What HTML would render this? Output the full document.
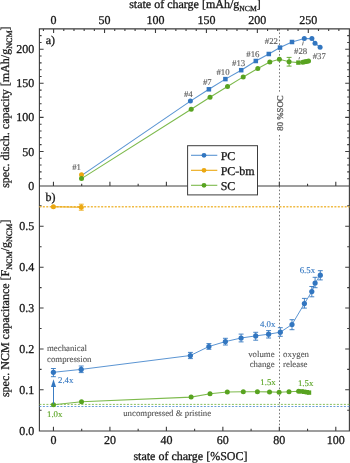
<!DOCTYPE html>
<html><head><meta charset="utf-8"><style>
html,body{margin:0;padding:0;background:#fff;width:350px;height:463px;overflow:hidden;}
svg{display:block;will-change:transform;}
text{stroke-width:0.3px;text-rendering:geometricPrecision;}
.an text{stroke-width:0.12px;}
</style></head><body>
<svg width="350" height="463" viewBox="0 0 350 463">
<rect width="350" height="463" fill="#fff"/>
<path d="M39.4,28.9H349.4V431.0H39.4Z M39.4,186.0H349.4" fill="none" stroke="#3c3c3c" stroke-width="1.12"/>
<path d="M43.41,28.9v2.2 M53.60,28.9v4.2 M63.79,28.9v2.2 M73.98,28.9v2.2 M84.16,28.9v2.2 M94.35,28.9v2.2 M104.54,28.9v4.2 M114.73,28.9v2.2 M124.92,28.9v2.2 M135.10,28.9v2.2 M145.29,28.9v2.2 M155.48,28.9v4.2 M165.67,28.9v2.2 M175.86,28.9v2.2 M186.04,28.9v2.2 M196.23,28.9v2.2 M206.42,28.9v4.2 M216.61,28.9v2.2 M226.80,28.9v2.2 M236.98,28.9v2.2 M247.17,28.9v2.2 M257.36,28.9v4.2 M267.55,28.9v2.2 M277.74,28.9v2.2 M287.92,28.9v2.2 M298.11,28.9v2.2 M308.30,28.9v4.2 M318.49,28.9v2.2 M328.68,28.9v2.2 M338.86,28.9v2.2 M53.45,186.0v-4.2 M53.45,431.0v-4.2 M81.69,186.0v-2.2 M81.69,431.0v-2.2 M109.92,186.0v-4.2 M109.92,431.0v-4.2 M138.16,186.0v-2.2 M138.16,431.0v-2.2 M166.39,186.0v-4.2 M166.39,431.0v-4.2 M194.62,186.0v-2.2 M194.62,431.0v-2.2 M222.86,186.0v-4.2 M222.86,431.0v-4.2 M251.10,186.0v-2.2 M251.10,431.0v-2.2 M279.33,186.0v-4.2 M279.33,431.0v-4.2 M307.56,186.0v-2.2 M307.56,431.0v-2.2 M335.80,186.0v-4.2 M335.80,431.0v-4.2 M39.4,178.69h2.2 M349.4,178.69h-2.2 M39.4,171.88h2.2 M349.4,171.88h-2.2 M39.4,165.06h2.2 M349.4,165.06h-2.2 M39.4,158.25h2.2 M349.4,158.25h-2.2 M39.4,151.44h4.2 M349.4,151.44h-4.2 M39.4,144.63h2.2 M349.4,144.63h-2.2 M39.4,137.82h2.2 M349.4,137.82h-2.2 M39.4,131.00h2.2 M349.4,131.00h-2.2 M39.4,124.19h2.2 M349.4,124.19h-2.2 M39.4,117.38h4.2 M349.4,117.38h-4.2 M39.4,110.57h2.2 M349.4,110.57h-2.2 M39.4,103.76h2.2 M349.4,103.76h-2.2 M39.4,96.94h2.2 M349.4,96.94h-2.2 M39.4,90.13h2.2 M349.4,90.13h-2.2 M39.4,83.32h4.2 M349.4,83.32h-4.2 M39.4,76.51h2.2 M349.4,76.51h-2.2 M39.4,69.70h2.2 M349.4,69.70h-2.2 M39.4,62.88h2.2 M349.4,62.88h-2.2 M39.4,56.07h2.2 M349.4,56.07h-2.2 M39.4,49.26h4.2 M349.4,49.26h-4.2 M39.4,42.45h2.2 M349.4,42.45h-2.2 M39.4,35.64h2.2 M349.4,35.64h-2.2 M39.4,410.26h2.2 M349.4,410.26h-2.2 M39.4,389.82h4.2 M349.4,389.82h-4.2 M39.4,369.38h2.2 M349.4,369.38h-2.2 M39.4,348.94h4.2 M349.4,348.94h-4.2 M39.4,328.50h2.2 M349.4,328.50h-2.2 M39.4,308.06h4.2 M349.4,308.06h-4.2 M39.4,287.62h2.2 M349.4,287.62h-2.2 M39.4,267.18h4.2 M349.4,267.18h-4.2 M39.4,246.74h2.2 M349.4,246.74h-2.2 M39.4,226.30h4.2 M349.4,226.30h-4.2 M39.4,205.86h2.2 M349.4,205.86h-2.2" fill="none" stroke="#3c3c3c" stroke-width="1.1"/>
<g font-family="Liberation Serif, serif" font-size="12" fill="#1a1a1a" stroke="#1a1a1a"><text x="53.60" y="23.8" text-anchor="middle">0</text><text x="104.54" y="23.8" text-anchor="middle">50</text><text x="155.48" y="23.8" text-anchor="middle">100</text><text x="206.42" y="23.8" text-anchor="middle">150</text><text x="257.36" y="23.8" text-anchor="middle">200</text><text x="308.30" y="23.8" text-anchor="middle">250</text><text x="53.45" y="444.2" text-anchor="middle">0</text><text x="109.92" y="444.2" text-anchor="middle">20</text><text x="166.39" y="444.2" text-anchor="middle">40</text><text x="222.86" y="444.2" text-anchor="middle">60</text><text x="279.33" y="444.2" text-anchor="middle">80</text><text x="335.80" y="444.2" text-anchor="middle">100</text><text x="34.3" y="189.60" text-anchor="end">0</text><text x="34.3" y="155.54" text-anchor="end">50</text><text x="34.3" y="121.48" text-anchor="end">100</text><text x="34.3" y="87.42" text-anchor="end">150</text><text x="34.3" y="53.36" text-anchor="end">200</text><text x="34.3" y="434.80" text-anchor="end">0.0</text><text x="34.3" y="393.92" text-anchor="end">0.1</text><text x="34.3" y="353.04" text-anchor="end">0.2</text><text x="34.3" y="312.16" text-anchor="end">0.3</text><text x="34.3" y="271.28" text-anchor="end">0.4</text><text x="34.3" y="230.40" text-anchor="end">0.5</text></g>
<text font-family="Liberation Serif, serif" font-size="12" fill="#1a1a1a" stroke="#1a1a1a" x="195.0" y="8.2" text-anchor="middle">state of charge [mAh/g<tspan font-size="7.7" dy="2.5">NCM</tspan><tspan dy="-2.5">]</tspan></text>
<text font-family="Liberation Serif, serif" font-size="12" fill="#1a1a1a" stroke="#1a1a1a" x="190.5" y="460.3" text-anchor="middle">state of charge [%SOC]</text>
<text font-family="Liberation Serif, serif" font-size="12" fill="#1a1a1a" stroke="#1a1a1a" transform="translate(9.2,107.1) rotate(-90)" text-anchor="middle">spec. disch. capacity [mAh/g<tspan font-size="8.1" dy="2.5">NCM</tspan><tspan dy="-2.5">]</tspan></text>
<text font-family="Liberation Serif, serif" font-size="12" fill="#1a1a1a" stroke="#1a1a1a" transform="translate(9.2,308.3) rotate(-90)" text-anchor="middle">spec. NCM capacitance [F<tspan font-size="8.1" dy="2.5">NCM</tspan><tspan dy="-2.5">/g</tspan><tspan font-size="8.1" dy="2.5">NCM</tspan><tspan dy="-2.5">]</tspan></text>
<text font-family="Liberation Serif, serif" font-size="12" fill="#1a1a1a" stroke="#1a1a1a" x="45.7" y="44.0">a)</text>
<text font-family="Liberation Serif, serif" font-size="12" fill="#1a1a1a" stroke="#1a1a1a" x="45.6" y="201.1">b)</text>
<path d="M279.5,28.9V93 M279.5,135V186.0 M279.5,186.0V431.0" stroke="#4a4a4a" stroke-width="0.75" stroke-dasharray="1.6 2.0" fill="none"/>
<text font-family="Liberation Serif, serif" font-size="8.8" fill="#585858" stroke="#585858" class="an" transform="translate(282.8,113) rotate(-90)" text-anchor="middle">80 %SOC</text>
<path d="M39.4,206.8H349.4" stroke="#f0bb45" stroke-width="1.4" stroke-dasharray="2 1.43" fill="none"/>
<path d="M39.4,404.4H349.4" stroke="#7cb84c" stroke-width="0.9" stroke-dasharray="2.0 1.5" fill="none"/>
<path d="M39.4,406.5H349.4" stroke="#5a93d2" stroke-width="0.9" stroke-dasharray="2.0 1.5" fill="none"/>
<path d="M81.4,175.6 L190.4,101.1 L208.9,89.3 L225.4,79.1 L241.2,70.2 L255.8,61.0 L268.8,54.0 L280.0,47.6 L292.0,42.0 L304.3,38.5 L311.9,38.6 L315.0,43.2 L320.1,47.3" stroke="#5b95d3" stroke-width="1.1" fill="none"/>
<path d="M81.5,178.6 L191.2,109.2 L210.0,97.3 L227.5,86.5 L243.2,76.9 L257.8,68.5 L269.8,62.0 L279.4,59.2 L289.1,61.7 L298.4,62.6 L302.8,62.2 L304.8,61.8 L306.6,61.5 L308.5,61.1" stroke="#7dba4c" stroke-width="1.1" fill="none"/>
<path d="M289.1,57.4V66.1 M286.65000000000003,57.4h4.9 M286.65000000000003,66.1h4.9" stroke="#58a320" stroke-width="0.9" fill="none"/>
<circle cx="190.4" cy="101.1" r="2.5" fill="#3276c0"/>
<rect x="206.65" y="87.05" width="4.5" height="4.5" fill="#3276c0"/>
<rect x="223.15" y="76.85" width="4.5" height="4.5" fill="#3276c0"/>
<rect x="238.95" y="67.95" width="4.5" height="4.5" fill="#3276c0"/>
<rect x="253.55" y="58.75" width="4.5" height="4.5" fill="#3276c0"/>
<rect x="266.55" y="51.75" width="4.5" height="4.5" fill="#3276c0"/>
<rect x="277.75" y="45.35" width="4.5" height="4.5" fill="#3276c0"/>
<rect x="289.75" y="39.75" width="4.5" height="4.5" fill="#3276c0"/>
<circle cx="304.3" cy="38.5" r="2.5" fill="#3276c0"/>
<circle cx="311.9" cy="38.6" r="2.5" fill="#3276c0"/>
<circle cx="315.0" cy="43.2" r="2.5" fill="#3276c0"/>
<circle cx="320.1" cy="47.3" r="2.5" fill="#3276c0"/>
<circle cx="81.5" cy="174.7" r="2.5" fill="#eba812"/>
<circle cx="81.5" cy="178.6" r="2.5" fill="#58a320"/>
<circle cx="191.2" cy="109.2" r="2.5" fill="#58a320"/>
<circle cx="210.0" cy="97.3" r="2.5" fill="#58a320"/>
<circle cx="227.5" cy="86.5" r="2.5" fill="#58a320"/>
<circle cx="243.2" cy="76.9" r="2.5" fill="#58a320"/>
<circle cx="257.8" cy="68.5" r="2.5" fill="#58a320"/>
<circle cx="269.8" cy="62.0" r="2.5" fill="#58a320"/>
<circle cx="279.4" cy="59.2" r="2.5" fill="#58a320"/>
<circle cx="289.1" cy="61.7" r="2.5" fill="#58a320"/>
<rect x="296.20" y="60.40" width="4.4" height="4.4" fill="#58a320"/>
<circle cx="302.8" cy="62.2" r="2.5" fill="#58a320"/>
<circle cx="304.8" cy="61.8" r="2.5" fill="#58a320"/>
<circle cx="306.6" cy="61.5" r="2.5" fill="#58a320"/>
<circle cx="308.5" cy="61.1" r="2.5" fill="#58a320"/>
<g font-family="Liberation Serif, serif" font-size="8.8" fill="#585858" stroke="#585858" class="an" text-anchor="middle"><text x="76.6" y="169.6">#1</text><text x="188.3" y="96.7">#4</text><text x="207.3" y="84.8">#7</text><text x="223.0" y="74.8">#10</text><text x="238.6" y="65.6">#13</text><text x="252.9" y="56.9">#16</text><text x="271.4" y="43.5">#22</text><text x="300.6" y="54.4">#28</text><text x="319.3" y="59.1">#37</text></g>
<path d="M303.4,41.4L302.4,45.4 M299.6,57.1L298.9,59.4" stroke="#585858" stroke-width="0.8" fill="none"/>
<path d="M53.4,372.3 L81.2,369.4 L190.4,355.5 L208.9,346.5 L225.4,341.6 L241.1,338.0 L255.7,335.9 L268.6,334.2 L280.3,332.2 L292.0,324.5 L304.4,303.6 L311.8,291.6 L315.1,283.0 L320.3,275.2" stroke="#5b95d3" stroke-width="1.0" fill="none"/>
<path d="M53.5,404.7 L81.5,401.7 L191.1,397.1 L210.0,393.7 L227.3,392.0 L243.3,391.7 L257.4,391.7 L269.5,391.9 L279.1,392.2 L289.0,391.8 L298.6,391.2 L301.6,391.4 L304.2,391.8 L306.8,392.2 L309.0,392.6" stroke="#7dba4c" stroke-width="1.1" fill="none"/>
<path d="M53.4,206.8 L81.3,207.2" stroke="#eba812" stroke-width="1.0" fill="none"/>
<path d="M53.4,368.5V376.7 M50.949999999999996,368.5h4.9 M50.949999999999996,376.7h4.9" stroke="#3276c0" stroke-width="0.9" fill="none"/>
<path d="M81.2,366.0V372.6 M78.75,366.0h4.9 M78.75,372.6h4.9" stroke="#3276c0" stroke-width="0.9" fill="none"/>
<path d="M190.4,352.4V358.6 M187.95000000000002,352.4h4.9 M187.95000000000002,358.6h4.9" stroke="#3276c0" stroke-width="0.9" fill="none"/>
<path d="M208.9,343.6V349.3 M206.45000000000002,343.6h4.9 M206.45000000000002,349.3h4.9" stroke="#3276c0" stroke-width="0.9" fill="none"/>
<path d="M225.4,338.3V345.0 M222.95000000000002,338.3h4.9 M222.95000000000002,345.0h4.9" stroke="#3276c0" stroke-width="0.9" fill="none"/>
<path d="M241.1,334.1V341.9 M238.65,334.1h4.9 M238.65,341.9h4.9" stroke="#3276c0" stroke-width="0.9" fill="none"/>
<path d="M255.7,332.3V340.2 M253.25,332.3h4.9 M253.25,340.2h4.9" stroke="#3276c0" stroke-width="0.9" fill="none"/>
<path d="M268.6,330.6V338.0 M266.15000000000003,330.6h4.9 M266.15000000000003,338.0h4.9" stroke="#3276c0" stroke-width="0.9" fill="none"/>
<path d="M280.3,327.7V336.3 M277.85,327.7h4.9 M277.85,336.3h4.9" stroke="#3276c0" stroke-width="0.9" fill="none"/>
<path d="M292.0,319.7V329.7 M289.55,319.7h4.9 M289.55,329.7h4.9" stroke="#3276c0" stroke-width="0.9" fill="none"/>
<path d="M304.4,298.4V308.1 M301.95,298.4h4.9 M301.95,308.1h4.9" stroke="#3276c0" stroke-width="0.9" fill="none"/>
<path d="M311.8,286.5V296.8 M309.35,286.5h4.9 M309.35,296.8h4.9" stroke="#3276c0" stroke-width="0.9" fill="none"/>
<path d="M315.1,277.3V287.7 M312.65000000000003,277.3h4.9 M312.65000000000003,287.7h4.9" stroke="#3276c0" stroke-width="0.9" fill="none"/>
<path d="M320.3,270.7V279.9 M317.85,270.7h4.9 M317.85,279.9h4.9" stroke="#3276c0" stroke-width="0.9" fill="none"/>
<circle cx="53.4" cy="372.3" r="2.6" fill="#3276c0"/>
<circle cx="81.2" cy="369.4" r="2.6" fill="#3276c0"/>
<circle cx="190.4" cy="355.5" r="2.6" fill="#3276c0"/>
<circle cx="208.9" cy="346.5" r="2.6" fill="#3276c0"/>
<circle cx="225.4" cy="341.6" r="2.6" fill="#3276c0"/>
<circle cx="241.1" cy="338.0" r="2.6" fill="#3276c0"/>
<circle cx="255.7" cy="335.9" r="2.6" fill="#3276c0"/>
<circle cx="268.6" cy="334.2" r="2.6" fill="#3276c0"/>
<circle cx="280.3" cy="332.2" r="2.6" fill="#3276c0"/>
<circle cx="292.0" cy="324.5" r="2.6" fill="#3276c0"/>
<circle cx="304.4" cy="303.6" r="2.6" fill="#3276c0"/>
<circle cx="311.8" cy="291.6" r="2.6" fill="#3276c0"/>
<circle cx="315.1" cy="283.0" r="2.6" fill="#3276c0"/>
<circle cx="320.3" cy="275.2" r="2.6" fill="#3276c0"/>
<circle cx="53.5" cy="404.7" r="2.5" fill="#58a320"/>
<circle cx="81.5" cy="401.7" r="2.5" fill="#58a320"/>
<circle cx="191.1" cy="397.1" r="2.5" fill="#58a320"/>
<circle cx="210.0" cy="393.7" r="2.5" fill="#58a320"/>
<circle cx="227.3" cy="392.0" r="2.5" fill="#58a320"/>
<circle cx="243.3" cy="391.7" r="2.5" fill="#58a320"/>
<circle cx="257.4" cy="391.7" r="2.5" fill="#58a320"/>
<circle cx="269.5" cy="391.9" r="2.5" fill="#58a320"/>
<circle cx="279.1" cy="392.2" r="2.5" fill="#58a320"/>
<circle cx="289.0" cy="391.8" r="2.5" fill="#58a320"/>
<circle cx="298.6" cy="391.2" r="2.5" fill="#58a320"/>
<rect x="299.40" y="389.20" width="4.4" height="4.4" fill="#58a320"/>
<rect x="302.00" y="389.60" width="4.4" height="4.4" fill="#58a320"/>
<rect x="304.60" y="390.00" width="4.4" height="4.4" fill="#58a320"/>
<rect x="306.80" y="390.40" width="4.4" height="4.4" fill="#58a320"/>
<path d="M81.3,204.2V210.2 M78.85,204.2h4.9 M78.85,210.2h4.9" stroke="#eba812" stroke-width="0.9" fill="none"/>
<circle cx="53.4" cy="206.8" r="2.5" fill="#eba812"/>
<circle cx="81.3" cy="207.2" r="2.5" fill="#eba812"/>
<path d="M53.5,404V386" stroke="#3276c0" stroke-width="0.95" fill="none"/>
<path d="M53.5,379.2L51.0,386.9L56.0,386.9Z" fill="#3276c0"/>
<g font-family="Liberation Serif, serif" font-size="8.8" class="an"><text x="47" y="351.1" fill="#585858" stroke="#585858" text-anchor="start">mechanical</text><text x="47" y="361.7" fill="#585858" stroke="#585858" text-anchor="start">compression</text><text x="274.6" y="356.5" fill="#585858" stroke="#585858" text-anchor="end">volume</text><text x="274.6" y="366.9" fill="#585858" stroke="#585858" text-anchor="end">change</text><text x="283.1" y="356.5" fill="#585858" stroke="#585858" text-anchor="start">oxygen</text><text x="283.1" y="366.9" fill="#585858" stroke="#585858" text-anchor="start">release</text><text x="123.2" y="416.0" fill="#585858" stroke="#585858" text-anchor="start">uncompressed &amp; pristine</text><text x="58.0" y="383.0" fill="#3276c0" stroke="#3276c0" text-anchor="start">2.4x</text><text x="47.0" y="417.2" fill="#58a320" stroke="#58a320" text-anchor="start">1.0x</text><text x="275.4" y="326.6" fill="#3276c0" stroke="#3276c0" text-anchor="end">4.0x</text><text x="315.1" y="272.8" fill="#3276c0" stroke="#3276c0" text-anchor="end">6.5x</text><text x="275.7" y="385.4" fill="#58a320" stroke="#58a320" text-anchor="end">1.5x</text><text x="313.3" y="385.9" fill="#58a320" stroke="#58a320" text-anchor="end">1.5x</text></g>
<rect x="187.6" y="145.7" width="69.9" height="49.2" fill="#fff" stroke="#3c3c3c" stroke-width="1"/>
<path d="M191,155.3H217.3" stroke="#5b95d3" stroke-width="1.1"/>
<circle cx="204" cy="155.3" r="2.4" fill="#3276c0"/>
<text font-family="Liberation Serif, serif" font-size="12" fill="#1a1a1a" stroke="#1a1a1a" x="220.7" y="159.60000000000002">PC</text>
<path d="M191,170.3H217.3" stroke="#eba812" stroke-width="1.1"/>
<circle cx="204" cy="170.3" r="2.4" fill="#eba812"/>
<text font-family="Liberation Serif, serif" font-size="12" fill="#1a1a1a" stroke="#1a1a1a" x="220.7" y="174.60000000000002">PC-bm</text>
<path d="M191,185.3H217.3" stroke="#7dba4c" stroke-width="1.1"/>
<circle cx="204" cy="185.3" r="2.4" fill="#58a320"/>
<text font-family="Liberation Serif, serif" font-size="12" fill="#1a1a1a" stroke="#1a1a1a" x="220.7" y="189.60000000000002">SC</text>
</svg>
</body></html>
